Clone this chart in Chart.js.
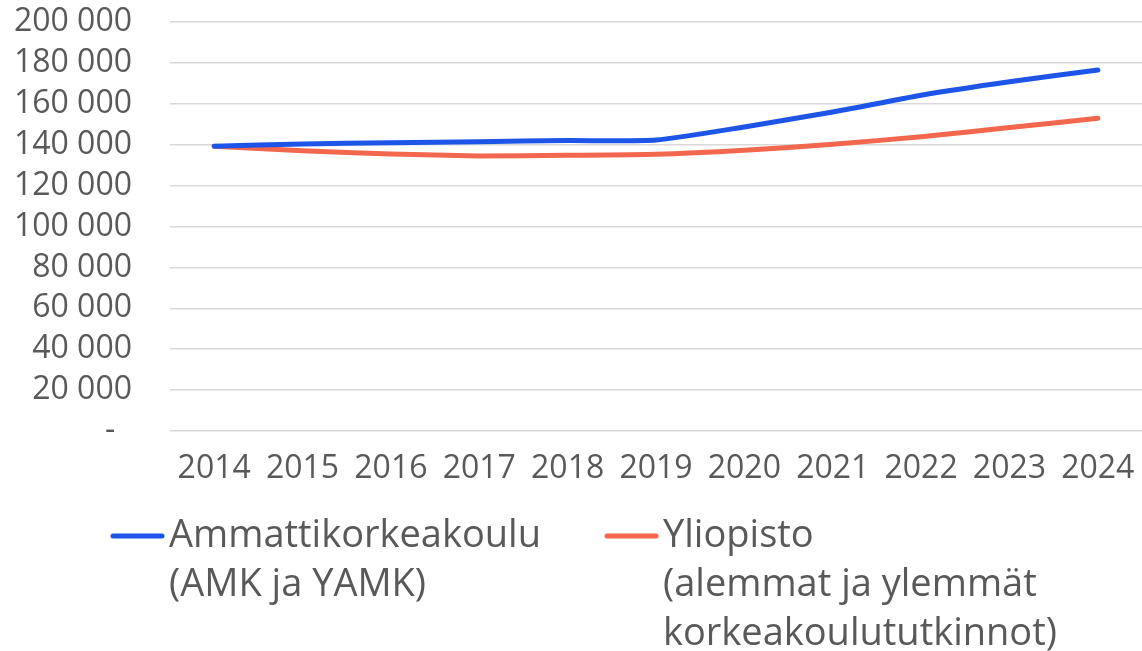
<!DOCTYPE html>
<html>
<head>
<meta charset="utf-8">
<script src="https://cdn.jsdelivr.net/npm/chart.js@4/dist/chart.umd.min.js"></script>
<style>
    body { margin: 0; background: #ffffff; }
    #contenedor { width: 1142px; height: 651px; }
</style>
</head>
<body>
<div id="contenedor"><canvas id="myChart"></canvas></div>
<script>
// Datos
const anios = ['2014', '2015', '2016', '2017', '2018', '2019', '2020', '2021', '2022', '2023', '2024'];
const amk = [139300, 140300, 141000, 141500, 142000, 142300, 148700, 156000, 164200, 170800, 176500];
const yliopisto = [139300, 137000, 135500, 134500, 134800, 135300, 137300, 140200, 143900, 148400, 152900];
const etiquetaAmk = ['Ammattikorkeakoulu', '(AMK ja YAMK)'];
const etiquetaYliopisto = ['Yliopisto', '(alemmat ja ylemmät', 'korkeakoulututkinnot)'];

const colorAmk = '#1c55e8';
const colorYliopisto = '#f2674d';
const colorTexto = '#595959';

// Formato con espacio como separador de miles, el cero va como guion
function formatoMiles(valor) {
    if (valor === 0) return '-  ';
    return String(valor).replace(/\B(?=(\d{3})+(?!\d))/g, ' ');
}

// Leyenda propia: las etiquetas van en varias líneas
const leyendaMultilinea = {
    id: 'leyendaMultilinea',
    afterDraw(chart) {
        const ctx = chart.ctx;
        const tamLinea = 53;
        const separacion = 5;
        const espacioEntre = 64;
        const altoLinea = 49;
        const y0 = chart.chartArea.bottom + 105;

        ctx.save();
        ctx.font = '38px "Open Sans"';
        ctx.textBaseline = 'middle';
        ctx.textAlign = 'left';

        const items = chart.data.datasets.map(ds => {
            const ancho = Math.max(...ds.label.map(t => ctx.measureText(t).width));
            return { lineas: ds.label, color: ds.borderColor, ancho: tamLinea + separacion + ancho };
        });
        const total = items.reduce((s, it) => s + it.ancho, 0) + espacioEntre * (items.length - 1);
        let x = (chart.width - total) / 2 + 13;

        items.forEach(it => {
            ctx.strokeStyle = it.color;
            ctx.lineWidth = 5;
            ctx.lineCap = 'round';
            ctx.beginPath();
            ctx.moveTo(x + 2, y0);
            ctx.lineTo(x + tamLinea - 2, y0);
            ctx.stroke();

            ctx.fillStyle = colorTexto;
            it.lineas.forEach((linea, i) => {
                ctx.fillText(linea, x + tamLinea + separacion, y0 + i * altoLinea);
            });
            x += it.ancho + espacioEntre;
        });
        ctx.restore();
    }
};

const ctx = document.getElementById('myChart').getContext('2d');

new Chart(ctx, {
    type: 'line',
    data: {
        labels: anios,
        datasets: [
            {
                label: etiquetaAmk,
                data: amk,
                borderColor: colorAmk,
                backgroundColor: colorAmk,
                borderWidth: 5,
                borderCapStyle: 'round',
                pointRadius: 0,
                tension: 0.2
            },
            {
                label: etiquetaYliopisto,
                data: yliopisto,
                borderColor: colorYliopisto,
                backgroundColor: colorYliopisto,
                borderWidth: 5,
                borderCapStyle: 'round',
                pointRadius: 0,
                tension: 0.2
            }
        ]
    },
    options: {
        responsive: true,
        maintainAspectRatio: false,
        animation: false,
        layout: { padding: { top: 22, right: 0, bottom: 163, left: 0 } },
        plugins: {
            legend: { display: false },
            tooltip: { enabled: false }
        },
        scales: {
            x: {
                offset: true,
                grid: { display: false, drawTicks: false },
                border: { display: false },
                ticks: {
                    color: colorTexto,
                    font: { family: '"Open Sans"', size: 32 },
                    padding: 19,
                    maxRotation: 0,
                    autoSkip: false
                },
                afterFit: (escala) => {
                    escala.height = 57;
                    escala.paddingLeft = 0;
                    escala.paddingRight = 0;
                }
            },
            y: {
                min: 0,
                max: 200000,
                // marcas invisibles para separar las etiquetas de la cuadrícula
                grid: { color: '#d9d9d9', lineWidth: 1.5, drawTicks: true, tickLength: 38, tickColor: 'rgba(0,0,0,0)' },
                border: { display: false },
                ticks: {
                    stepSize: 20000,
                    autoSkip: false,
                    color: colorTexto,
                    font: { family: '"Open Sans"', size: 32, lineHeight: 1 },
                    padding: 0,
                    callback: (valor) => formatoMiles(valor)
                },
                afterFit: (escala) => { escala.width = 170; }
            }
        }
    },
    plugins: [leyendaMultilinea]
});
</script>
</body>
</html>
